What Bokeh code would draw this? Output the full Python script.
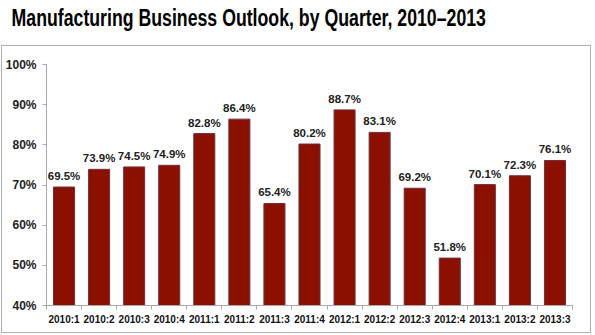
from bokeh.plotting import figure
from bokeh.layouts import column
from bokeh.models import Range1d, FixedTicker, PrintfTickFormatter, ColumnDataSource, Div
from bokeh.core.properties import value
from bokeh.embed import file_html
from bokeh.resources import INLINE

quarters = ["2010:1", "2010:2", "2010:3", "2010:4", "2011:1", "2011:2", "2011:3", "2011:4",
            "2012:1", "2012:2", "2012:3", "2012:4", "2013:1", "2013:2", "2013:3"]
outlook = [69.5, 73.9, 74.5, 74.9, 82.8, 86.4, 65.4, 80.2,
           88.7, 83.1, 69.2, 51.8, 70.1, 72.3, 76.1]
y_ticks = [40, 50, 60, 70, 80, 90, 100]
title_text = "Manufacturing Business Outlook, by Quarter, 2010\u20132013"

xs = [i + 0.5 for i in range(len(quarters))]
src = ColumnDataSource(dict(x=xs, top=outlook, label=[f"{v:.1f}%" for v in outlook]))

title = Div(
    text=(f'<div style="font-family:\'Liberation Sans\',Arial,sans-serif;font-weight:bold;'
          f'font-size:23px;line-height:23px;color:#000;white-space:nowrap;'
          f'transform:scaleX(0.77);transform-origin:0 0;padding-top:7px;padding-left:15px;">'
          f'{title_text}</div>'),
    width=595, height=45, margin=(0, 0, 0, 0))

p = figure(width=590, height=288, output_backend="svg", toolbar_location=None,
           x_range=Range1d(0, len(quarters)), y_range=Range1d(40, 100),
           min_border_left=42, min_border_right=20, min_border_top=18, min_border_bottom=29,
           margin=(0, 0, 0, 0))
p.styles = {"border": "1px solid #b0b0b0", "margin-left": "1px"}
p.background_fill_color = "white"
p.border_fill_color = "white"
p.outline_line_color = None
p.grid.visible = False

p.vbar(x="x", top="top", bottom=40, width=0.6, source=src,
       fill_color="#8c1000", line_color="#6e3040", line_width=1)
p.text(x="x", y="top", text="label", source=src, text_align="center",
       text_baseline="bottom", y_offset=-5,
       text_font=value("Liberation Sans"), text_font_style="bold",
       text_font_size="11.5px", text_color="#222222")

ya = p.yaxis[0]
ya.ticker = FixedTicker(ticks=y_ticks)
ya.formatter = PrintfTickFormatter(format="%d%%")
ya.axis_line_color = "#a8a8a8"
ya.major_tick_line_color = "#a8a8a8"
ya.major_tick_out = 4
ya.major_tick_in = 0
ya.minor_tick_line_color = None
ya.major_label_standoff = 6
ya.major_label_text_font = "Liberation Sans"
ya.major_label_text_font_style = "bold"
ya.major_label_text_font_size = "12px"
ya.major_label_text_color = "#222222"

xa = p.xaxis[0]
xa.ticker = FixedTicker(ticks=xs, minor_ticks=list(range(len(quarters) + 1)))
xa.major_label_overrides = {x: q for x, q in zip(xs, quarters)}
xa.axis_line_color = "#a8a8a8"
xa.major_tick_line_color = None
xa.major_tick_out = 0
xa.major_tick_in = 0
xa.minor_tick_line_color = "#a8a8a8"
xa.minor_tick_out = 4
xa.minor_tick_in = 0
xa.major_label_standoff = 4
xa.major_label_text_font = "Liberation Sans"
xa.major_label_text_font_style = "bold"
xa.major_label_text_font_size = "10px"
xa.major_label_text_color = "#111111"

layout = column(title, p, spacing=0, margin=(0, 0, 0, 0))
open("out.html", "w").write(file_html(layout, INLINE))
